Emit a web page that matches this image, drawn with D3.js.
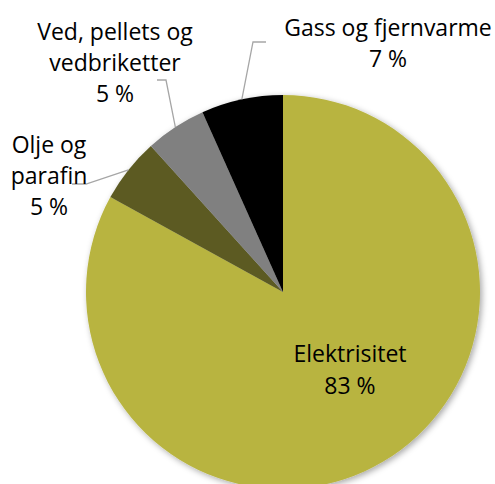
<!DOCTYPE html>
<head>
	<meta charset="utf-8" />
	<style>
		body {
			margin: 0;
			background-color: #fff;
			overflow: hidden;
		}
		text {
			font-family: 'Open Sans', Lato, sans-serif;
			font-size: 23px;
			fill: #000;
		}
	</style>
</head>
<body>
	<div id="chart-area"></div>

	<script src="https://d3js.org/d3.v7.min.js"></script>
	<script>
		// data, clockwise from 12 o'clock
		const categories = ['Elektrisitet', 'Olje og parafin', 'Ved, pellets og vedbriketter', 'Gass og fjernvarme'];
		const values = [83.0, 5.3, 5.0, 6.7];
		const shownPct = ['83 %', '5 %', '5 %', '7 %'];
		const colors = ['#b8b440', '#5b5a22', '#808080', '#000000'];

		// label layout: text lines, anchor centre, first baseline, line step, leader elbow
		const labelLines = [
			['Elektrisitet'],
			['Olje og', 'parafin'],
			['Ved, pellets og', 'vedbriketter'],
			['Gass og fjernvarme'],
		];
		const labelPos = [
			{ x: 350, y: 362, step: 32, leader: null },
			{ x: 49, y: 153, step: 31, leader: [[86, 184], [72, 184]] },
			{ x: 115, y: 40, step: 31, leader: [[166, 80], [157, 80]] },
			{ x: 388, y: 36, step: 30.5, leader: [[253, 42], [266, 42]] },
		];

		const width = 495, height = 484;
		const cx = 283, cy = 292, radius = 197;

		const svg = d3.select('#chart-area')
			.append('svg')
			.attr('width', width)
			.attr('height', height);

		const defs = svg.append('defs');
		defs.append('filter')
			.attr('id', 'shadow')
			.attr('x', '-10%').attr('y', '-10%')
			.attr('width', '120%').attr('height', '120%')
			.append('feDropShadow')
			.attr('dx', 2).attr('dy', 2)
			.attr('stdDeviation', 3)
			.attr('flood-color', '#000')
			.attr('flood-opacity', 0.35);

		const data = categories.map((c, i) => ({ name: c, value: values[i], i }));

		const pie = d3.pie().sort(null).value(d => d.value);
		const arc = d3.arc().innerRadius(0).outerRadius(radius);
		const arcs = pie(data);

		const g = svg.append('g').attr('transform', `translate(${cx},${cy})`);

		g.append('g')
			.attr('filter', 'url(#shadow)')
			.selectAll('path')
			.data(arcs)
			.join('path')
			.attr('d', arc)
			.attr('fill', d => colors[d.data.i]);

		// leader lines from slice edge midpoint to label
		const edge = d3.arc().innerRadius(radius).outerRadius(radius);
		svg.append('g')
			.selectAll('path')
			.data(arcs.filter(d => labelPos[d.data.i].leader))
			.join('path')
			.attr('fill', 'none')
			.attr('stroke', '#a6a6a6')
			.attr('stroke-width', 1.3)
			.attr('d', d => {
				const [x, y] = edge.centroid(d);
				return d3.line()([[cx + x, cy + y], ...labelPos[d.data.i].leader]);
			});

		// labels
		const labels = svg.append('g')
			.selectAll('text')
			.data(data)
			.join('text')
			.attr('text-anchor', 'middle')
			.attr('x', d => labelPos[d.i].x)
			.attr('y', d => labelPos[d.i].y);

		labels.each(function (d) {
			const t = d3.select(this);
			const p = labelPos[d.i];
			labelLines[d.i].concat([shownPct[d.i]]).forEach((line, k) => {
				t.append('tspan')
					.attr('x', p.x)
					.attr('y', p.y + k * p.step)
					.text(line);
			});
		});
	</script>
</body>
